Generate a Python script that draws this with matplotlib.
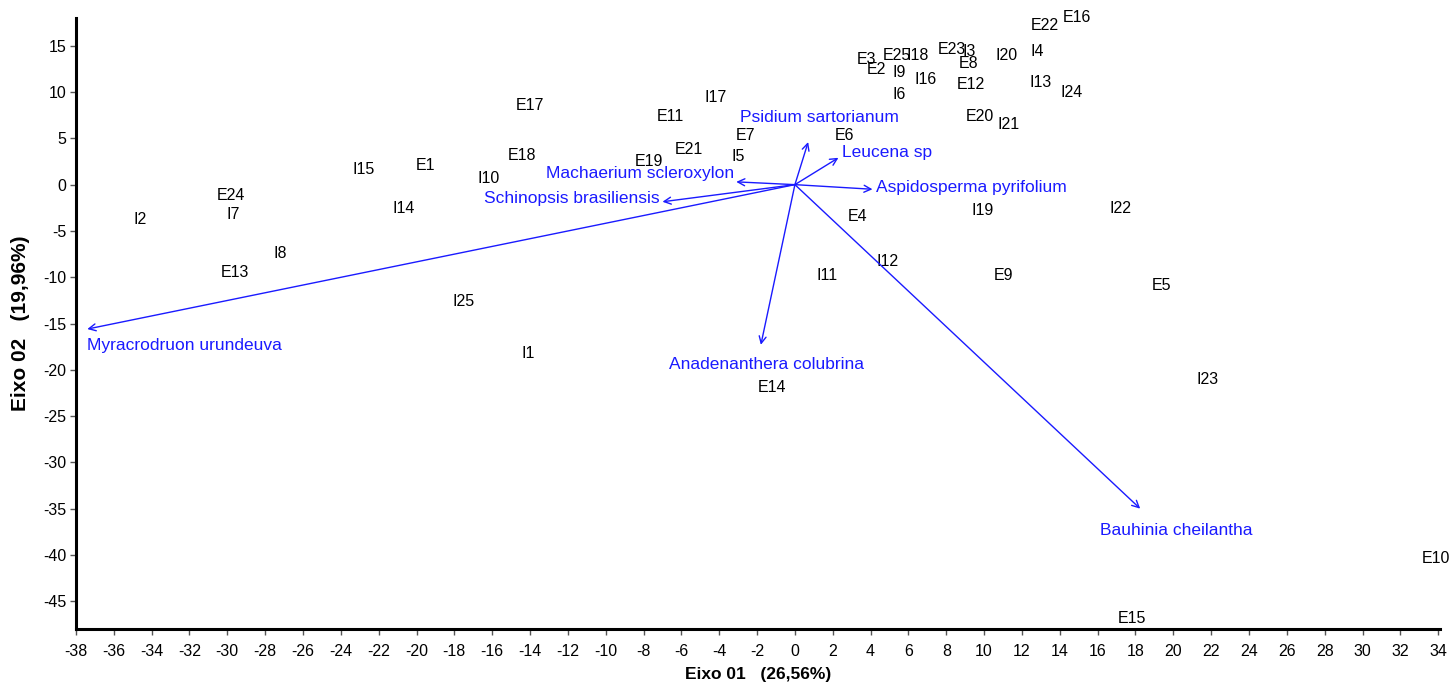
import matplotlib
matplotlib.use('Agg')
from matplotlib import pyplot as plt

plt.rcParams['font.family'] = ['Liberation Sans', 'DejaVu Sans']
plt.rcParams['axes.unicode_minus'] = False

# sample scores (axis 1, axis 2)
sites = ['E16', 'E22', 'I4', 'I20', 'E23', 'I3', 'E8', 'E12', 'I13', 'I24',
         'E20', 'I21', 'I19', 'I22', 'E9', 'E5', 'I23', 'E10', 'E15',
         'E3', 'E2', 'E25', 'I18', 'I9', 'I16', 'I6', 'E17', 'E11', 'I17',
         'E7', 'E6', 'E21', 'I5', 'E19', 'E18', 'I10', 'E4', 'I12', 'I11',
         'E14', 'I1', 'I2', 'E24', 'I7', 'I8', 'E13', 'I15', 'E1', 'I14', 'I25']
site_x = [14.9, 13.2, 12.8, 11.2, 8.3, 9.2, 9.2, 9.3, 13.0, 14.6,
          9.8, 11.3, 9.9, 17.2, 11.0, 19.4, 21.8, 33.9, 17.8,
          3.8, 4.3, 5.4, 6.5, 5.5, 6.9, 5.5, -14.0, -6.6, -4.2,
          -2.6, 2.6, -5.6, -3.0, -7.7, -14.4, -16.2, 3.3, 4.9, 1.7,
          -1.2, -14.1, -34.6, -29.8, -29.7, -27.2, -29.6, -22.8, -19.5, -20.7, -17.5]
site_y = [18.1, 17.2, 14.4, 14.0, 14.6, 14.4, 13.1, 10.8, 11.0, 9.9,
          7.4, 6.5, -2.8, -2.6, -9.8, -10.9, -21.0, -40.4, -46.9,
          13.5, 12.4, 13.9, 13.9, 12.1, 11.4, 9.7, 8.5, 7.4, 9.4,
          5.3, 5.3, 3.8, 3.0, 2.5, 3.1, 0.7, -3.4, -8.3, -9.8,
          -21.9, -18.2, -3.8, -1.2, -3.2, -7.4, -9.5, 1.6, 2.1, -2.6, -12.6]

# species vectors
species = ['Psidium sartorianum', 'Leucena sp', 'Aspidosperma pyrifolium',
           'Machaerium scleroxylon', 'Schinopsis brasiliensis',
           'Myracrodruon urundeuva', 'Anadenanthera colubrina', 'Bauhinia cheilantha']
vec_x = [0.7, 2.3, 4.1, -3.1, -7.0, -37.4, -1.8, 18.25]
vec_y = [4.6, 2.9, -0.5, 0.3, -1.85, -15.6, -17.3, -35.0]

# where each species name sits relative to its arrow tip (layout only)
name_place = [(0.6, 2.65, 'center'), (0.2, 0.6, 'left'), (0.2, 0.15, 'left'),
              (-0.1, 0.85, 'right'), (-0.15, 0.3, 'right'), (0.0, -1.8, 'left'),
              (0.3, -2.1, 'center'), (1.9, -2.4, 'center')]

blue = '#1a1aff'

fig = plt.figure(figsize=(14.52, 6.87), dpi=100)
ax = fig.add_axes([0.0523, 0.0844, 0.9395, 0.8894])

for name, x, y in zip(sites, site_x, site_y):
    ax.text(x, y, name, ha='center', va='center', fontsize=11.5,
            color='black', clip_on=False)

for name, x, y, (dx, dy, ha) in zip(species, vec_x, vec_y, name_place):
    ax.annotate('', xy=(x, y), xytext=(0, 0),
                arrowprops=dict(arrowstyle='->,head_length=0.5,head_width=0.25',
                                color=blue, lw=1.0, shrinkA=0, shrinkB=0))
    ax.text(x + dx, y + dy, name, ha=ha, va='center', fontsize=12.5, color=blue)

ax.set_xlim(-38, 34.1)
ax.set_ylim(-48, 18)
ax.set_xticks(range(-38, 35, 2))
ax.set_yticks(range(-45, 16, 5))

for side in ['top', 'right']:
    ax.spines[side].set_visible(False)
for side in ['left', 'bottom']:
    ax.spines[side].set_linewidth(2.2)
ax.tick_params(which='major', direction='out', length=4, width=1,
               color='#555555', labelsize=11.5, pad=3)
ax.tick_params(axis='x', pad=7)

ax.set_xlabel('Eixo 01   (26,56%)', fontsize=12.5, fontweight='bold', va='center')
ax.xaxis.set_label_coords(0.5, -0.075)
ax.set_ylabel('Eixo 02   (19,96%)', fontsize=15, fontweight='bold', va='center')
ax.yaxis.set_label_coords(-0.041, 0.5)

fig.savefig('out.png', dpi=100)
